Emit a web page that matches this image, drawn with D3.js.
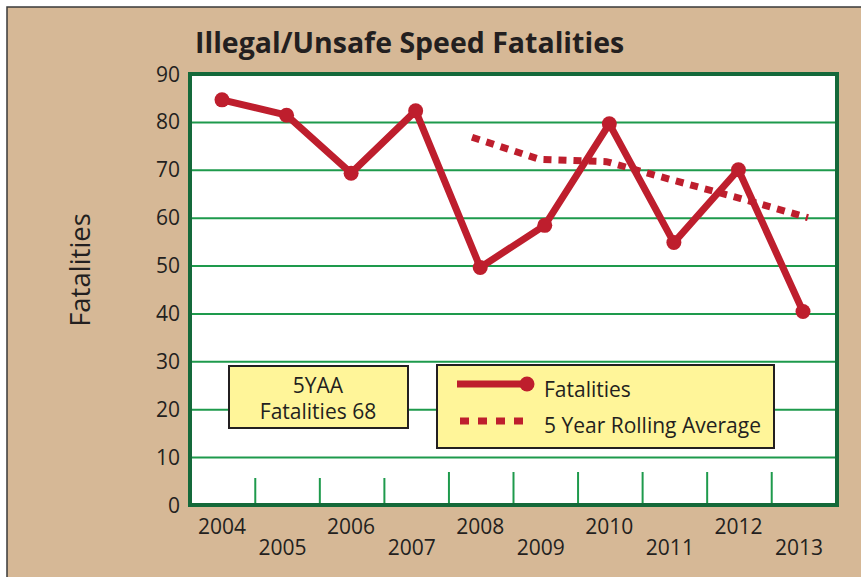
<!DOCTYPE html>
<html>
<head>
<meta charset="utf-8">
<script src="https://cdn.jsdelivr.net/npm/d3@7"></script>
<style>
  body { margin: 0; background: #fff; }
  svg text { font-family: "Open Sans", "Noto Sans", sans-serif; fill: #231f20; }
</style>
</head>
<body>
<div id="chart_holder"><svg></svg></div>
<script>
let years = [2004, 2005, 2006, 2007, 2008, 2009, 2010, 2011, 2012, 2013]
let fatalities = [84.6, 81.4, 69.3, 82.3, 49.6, 58.4, 79.6, 54.8, 70, 40.4]
let avg_years = [2008, 2009, 2010, 2011, 2012, 2013]
let rolling_avg = [76.8, 72.2, 71.7, 67.8, 64, 60]
let y_ticks = [0, 10, 20, 30, 40, 50, 60, 70, 80, 90]

let width = 861
let height = 577
let red = "#be1e2d"

let svg = d3.select('#chart_holder svg')
    .attr('width', width)
    .attr('height', height)

// tan frame
svg.append('rect')
    .attr('x', 7).attr('y', 7)
    .attr('width', width).attr('height', height)
    .attr('fill', '#d6b896')
    .attr('stroke', '#3a3a3a')
    .attr('stroke-width', 1.5)

let plot = {left: 190, right: 837, top: 74, bottom: 505}

let x = d3.scalePoint().domain(years).range([222, 803])
let y = d3.scaleLinear().domain([0, 90]).range([plot.bottom, plot.top])
// the average line is drawn a little wider than the yearly points
let x_avg = d3.scaleLinear().domain([2008, 2013]).range([472, 808])

svg.append('rect')
    .attr('x', plot.left).attr('y', plot.top)
    .attr('width', plot.right - plot.left)
    .attr('height', plot.bottom - plot.top)
    .attr('fill', '#fff')

// gridlines
let grid = svg.append('g')
    .attr('transform', `translate(${plot.left},0)`)
    .call(d3.axisLeft(y).tickValues(y_ticks.slice(1, -1)).tickSize(-(plot.right - plot.left)).tickFormat(''))
grid.select('.domain').remove()
grid.selectAll('line').attr('stroke', '#1e9a4c').attr('stroke-width', 2)

// y tick labels
svg.append('g').selectAll('text')
    .data(y_ticks)
    .join('text')
        .attr('x', 180)
        .attr('y', d => y(d))
        .attr('dy', '0.36em')
        .attr('text-anchor', 'end')
        .attr('font-size', 21)
        .text(d => d)

// small x ticks between years
let step = x.step()
svg.append('g').selectAll('line')
    .data(years.slice(0, -1))
    .join('line')
        .attr('x1', d => x(d) + step / 2 + 1)
        .attr('x2', d => x(d) + step / 2 + 1)
        .attr('y1', (d, i) => i < 3 ? 478 : 472)
        .attr('y2', plot.bottom)
        .attr('stroke', '#1e9a4c')
        .attr('stroke-width', 2)

// x labels, staggered
svg.append('g').selectAll('text')
    .data(years)
    .join('text')
        .attr('x', (d, i) => x(d) - (i % 2 == 0 ? 0 : 4))
        .attr('y', (d, i) => i % 2 == 0 ? 534 : 555)
        .attr('text-anchor', 'middle')
        .attr('font-size', 21)
        .text(d => d)

// plot border
svg.append('rect')
    .attr('x', plot.left).attr('y', plot.top)
    .attr('width', plot.right - plot.left)
    .attr('height', plot.bottom - plot.top)
    .attr('fill', 'none')
    .attr('stroke', '#14693a')
    .attr('stroke-width', 4)

// rolling average
let avg_line = d3.line().x((d, i) => x_avg(avg_years[i])).y(d => y(d))
svg.append('path')
    .datum(rolling_avg)
    .attr('d', avg_line)
    .attr('fill', 'none')
    .attr('stroke', red)
    .attr('stroke-width', 7)
    .attr('stroke-dasharray', '8,7')

// fatalities
let line = d3.line().x((d, i) => x(years[i])).y(d => y(d))
svg.append('path')
    .datum(fatalities)
    .attr('d', line)
    .attr('fill', 'none')
    .attr('stroke', red)
    .attr('stroke-width', 7)
    .attr('stroke-linejoin', 'round')

svg.append('g').selectAll('circle')
    .data(fatalities)
    .join('circle')
        .attr('cx', (d, i) => x(years[i]))
        .attr('cy', d => y(d))
        .attr('r', 7.5)
        .attr('fill', red)

// title
svg.append('text')
    .attr('x', 195).attr('y', 53)
    .attr('font-size', 28.5)
    .attr('font-weight', 'bold')
    .text('Illegal/Unsafe Speed Fatalities')

// y label
svg.append('text')
    .attr('transform', 'translate(90,270) rotate(-90)')
    .attr('text-anchor', 'middle')
    .attr('font-size', 27.5)
    .text('Fatalities')

// 5YAA box
svg.append('rect')
    .attr('x', 229).attr('y', 366)
    .attr('width', 179).attr('height', 62)
    .attr('fill', '#fff599')
    .attr('stroke', '#231f20')
    .attr('stroke-width', 2)
svg.append('text')
    .attr('x', 318).attr('y', 393)
    .attr('text-anchor', 'middle')
    .attr('font-size', 21)
    .text('5YAA')
svg.append('text')
    .attr('x', 318).attr('y', 419)
    .attr('text-anchor', 'middle')
    .attr('font-size', 21)
    .text('Fatalities 68')

// legend
let legend = svg.append('g')
legend.append('rect')
    .attr('x', 437).attr('y', 365)
    .attr('width', 337).attr('height', 83)
    .attr('fill', '#fff599')
    .attr('stroke', '#231f20')
    .attr('stroke-width', 2)
legend.append('line')
    .attr('x1', 457).attr('x2', 527)
    .attr('y1', 384).attr('y2', 384)
    .attr('stroke', red).attr('stroke-width', 7)
legend.append('circle')
    .attr('cx', 527).attr('cy', 384).attr('r', 7.5)
    .attr('fill', red)
legend.append('line')
    .attr('x1', 460).attr('x2', 524)
    .attr('y1', 421).attr('y2', 421)
    .attr('stroke', red).attr('stroke-width', 7)
    .attr('stroke-dasharray', '9,9')
legend.append('text')
    .attr('x', 544).attr('y', 397)
    .attr('font-size', 21)
    .text('Fatalities')
legend.append('text')
    .attr('x', 544).attr('y', 433)
    .attr('font-size', 21)
    .text('5 Year Rolling Average')
</script>
</body>
</html>
